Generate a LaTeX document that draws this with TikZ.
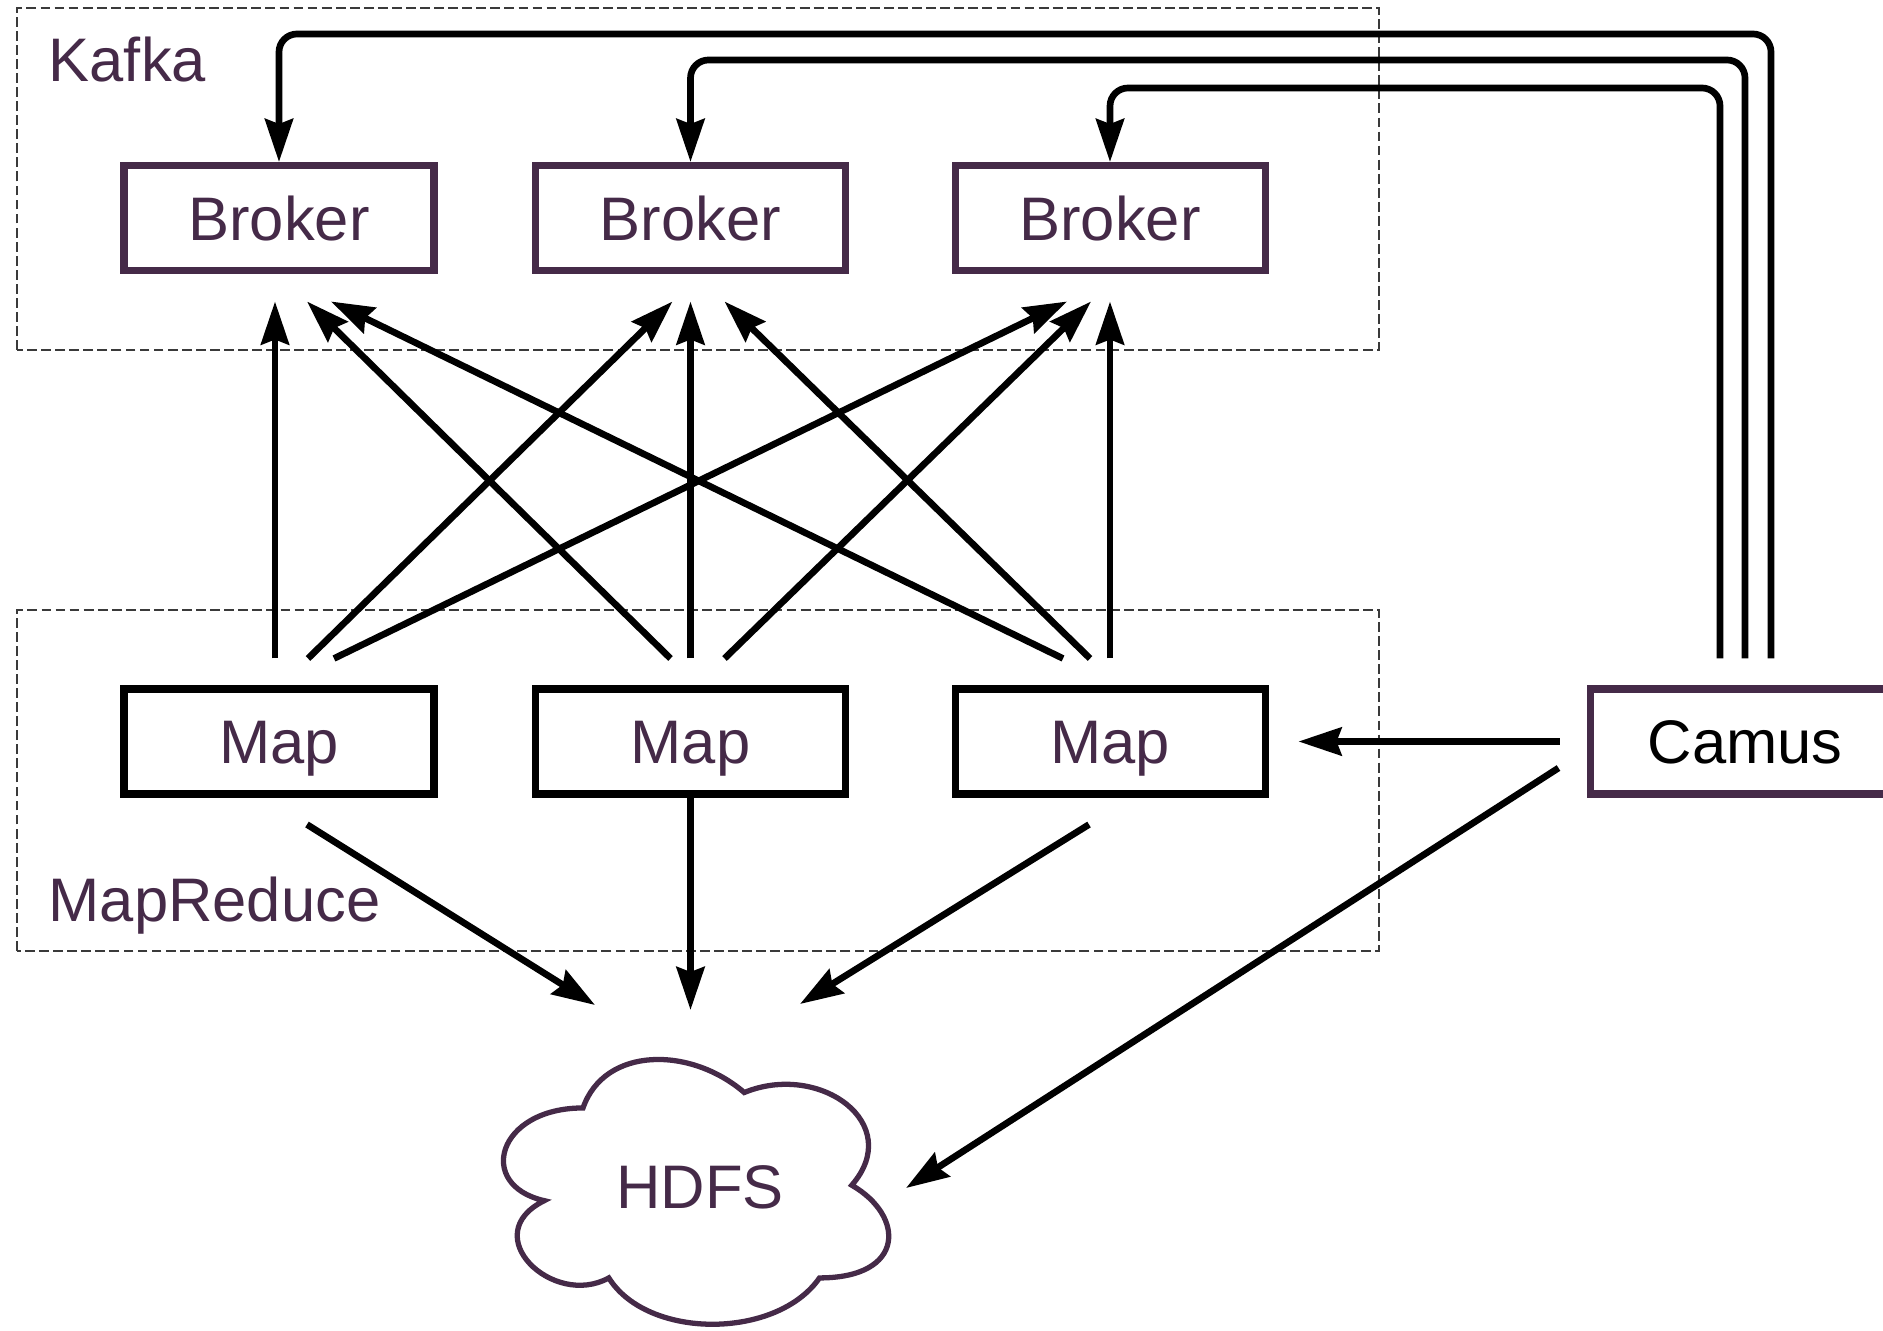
\documentclass[tikz,border=0pt]{standalone}
\usepackage{fontspec}
\setmainfont{Liberation Sans}
\usepackage{tikz}
\usetikzlibrary{arrows.meta}
\definecolor{plum}{HTML}{452A48}
\definecolor{dashgrey}{HTML}{3A3A3A}
\tikzset{
  box/.style={draw=plum, line width=2pt, minimum width=3.10cm, minimum height=1.05cm, inner sep=0, text height=0.442cm, text depth=0cm, text=plum, font=\fontsize{17.5}{21}\selectfont},
  mapbox/.style={box, draw=black},
  group/.style={draw=dashgrey, line width=0.55pt, dash pattern=on 2.8pt off 1.2pt},
  grouplabel/.style={anchor=base west, inner sep=0, text=plum, font=\fontsize{17.5}{21}\selectfont},
  wire/.style={line width=1.9pt, -{Stealth[length=0.43cm, width=0.28cm, inset=0.05cm]}},
}

\begin{document}
\begin{tikzpicture}
	\useasboundingbox (0,0) rectangle (18.83,13.30);
	% Groups:
	\draw[group] (0.17,9.80) rectangle (13.79,13.22);
	\draw[group] (0.17,3.79) rectangle (13.79,7.20);
	\node[grouplabel] (kafka) at (0.48,12.48) {Kafka};
	\node[grouplabel] (mapreduce) at (0.48,4.09) {MapReduce};
	% Nodes:
	\node[box] (broker1) at (2.79,11.12) {Broker};
	\node[box] (broker2) at (6.905,11.12) {Broker};
	\node[box] (broker3) at (11.10,11.12) {Broker};
	\node[mapbox] (map1) at (2.79,5.885) {Map};
	\node[mapbox] (map2) at (6.905,5.885) {Map};
	\node[mapbox] (map3) at (11.10,5.885) {Map};
	\node[box, text=black] (camus) at (17.45,5.885) {Camus};
	% Cloud:
	\begin{scope}[shift={(4.755,2.993)}, x=4.30cm, y=-3.09cm]
		\draw[plum, line width=1.5pt] (0.25,0.25) .. controls (0.05,0.25) and (0,0.5) .. (0.16,0.55)
			.. controls (0,0.66) and (0.18,0.9) .. (0.31,0.8)
			.. controls (0.4,1) and (0.7,1) .. (0.8,0.8)
			.. controls (1,0.8) and (1,0.6) .. (0.875,0.5)
			.. controls (1,0.3) and (0.8,0.1) .. (0.625,0.2)
			.. controls (0.5,0.05) and (0.3,0.05) .. (0.25,0.25) -- cycle;
	\end{scope}
	\node[inner sep=0, text height=0.442cm, text depth=0cm, text=plum, font=\fontsize{17.5}{21}\selectfont] (hdfs) at (7.00,1.435) {HDFS};
	% Camus to brokers:
	\draw[wire, rounded corners=0.18cm] ([xshift=-0.25cm, yshift=0.27cm]camus.north) |- ([yshift=0.74cm]broker3.north) -- (broker3.north);
	\draw[wire, rounded corners=0.18cm] ([yshift=0.27cm]camus.north) |- ([yshift=1.02cm]broker2.north) -- (broker2.north);
	\draw[wire, rounded corners=0.18cm] ([xshift=0.26cm, yshift=0.27cm]camus.north) |- ([yshift=1.28cm]broker1.north) -- (broker1.north);
	% Maps to brokers:
	\draw[wire] ([xshift=-0.04cm, yshift=0.27cm]map1.north) -- ([xshift=-0.04cm, yshift=-0.275cm]broker1.south);
	\draw[wire] ([xshift=0.29cm, yshift=0.27cm]map1.north) -- ([xshift=-0.18cm, yshift=-0.275cm]broker2.south);
	\draw[wire] ([xshift=0.55cm, yshift=0.27cm]map1.north) -- ([xshift=-0.43cm, yshift=-0.275cm]broker3.south);
	\draw[wire] ([xshift=-0.20cm, yshift=0.27cm]map2.north) -- ([xshift=0.28cm, yshift=-0.275cm]broker1.south);
	\draw[wire] ([yshift=0.27cm]map2.north) -- ([yshift=-0.275cm]broker2.south);
	\draw[wire] ([xshift=0.34cm, yshift=0.27cm]map2.north) -- ([xshift=-0.19cm, yshift=-0.275cm]broker3.south);
	\draw[wire] ([xshift=-0.47cm, yshift=0.27cm]map3.north) -- ([xshift=0.52cm, yshift=-0.275cm]broker1.south);
	\draw[wire] ([xshift=-0.20cm, yshift=0.27cm]map3.north) -- ([xshift=0.34cm, yshift=-0.275cm]broker2.south);
	\draw[wire] ([yshift=0.27cm]map3.north) -- ([yshift=-0.275cm]broker3.south);
	% Maps and Camus to HDFS:
	\draw[wire] ([xshift=0.28cm, yshift=-0.27cm]map1.south) -- ([xshift=-1.05cm, yshift=1.815cm]hdfs.center);
	\draw[wire] (map2.south) -- ([xshift=-0.095cm, yshift=1.765cm]hdfs.center);
	\draw[wire] ([xshift=-0.21cm, yshift=-0.27cm]map3.south) -- ([xshift=1.00cm, yshift=1.825cm]hdfs.center);
	\draw[wire] ([xshift=-0.27cm]camus.west) -- ([xshift=0.30cm]map3.east);
	\draw[wire] ([xshift=-0.28cm, yshift=-0.265cm]camus.west) -- ([xshift=2.06cm, yshift=-0.015cm]hdfs.center);
\end{tikzpicture}
\end{document}
